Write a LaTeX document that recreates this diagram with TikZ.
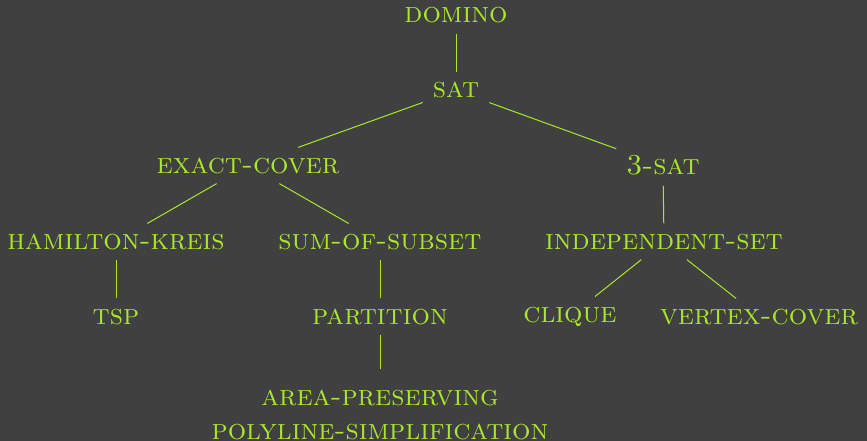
\documentclass[tikz,border=0pt]{standalone}
\usepackage{xcolor}
\definecolor{bg}{HTML}{404040}
\definecolor{lime}{HTML}{AAE62C}
\begin{document}
\begin{tikzpicture}[x=1pt,y=-1pt,
  lbl/.style={text=lime,font=\fontsize{29}{34}\selectfont\scshape,anchor=base,inner sep=10pt},
  conn/.style={draw=lime,line width=1pt}]
\fill[bg] (0,0) rectangle (867,441);
\useasboundingbox (0,0) rectangle (867,441);
\node[lbl] (domino) at (456,23) {domino};
\node[lbl] (sat) at (456,98) {sat};
\node[lbl] (exact) at (248,173) {exact-cover};
\node[lbl] (three) at (663,175) {3-sat};
\node[lbl] (ham) at (116,249) {hamilton-kreis};
\node[lbl] (sum) at (380,249) {sum-of-subset};
\node[lbl] (indep) at (664,249) {independent-set};
\node[lbl] (tsp) at (116,324) {tsp};
\node[lbl] (part) at (380,324) {partition};
\node[lbl] (clique) at (570,322) {clique};
\node[lbl] (vertex) at (759,324) {vertex-cover};
\node[lbl,align=center,anchor=north,inner ysep=21pt] (area) at (380,369) {area-preserving\\polyline-simplification};
\draw[conn] (domino) -- (sat);
\draw[conn] (sat) -- (exact);
\draw[conn] (sat) -- (three);
\draw[conn] (exact) -- (ham);
\draw[conn] (exact) -- (sum);
\draw[conn] (three) -- (indep);
\draw[conn] (ham) -- (tsp);
\draw[conn] (sum) -- (part);
\draw[conn] (indep) -- (clique);
\draw[conn] (indep) -- (vertex);
\draw[conn] (part) -- (area);
\end{tikzpicture}
\end{document}
